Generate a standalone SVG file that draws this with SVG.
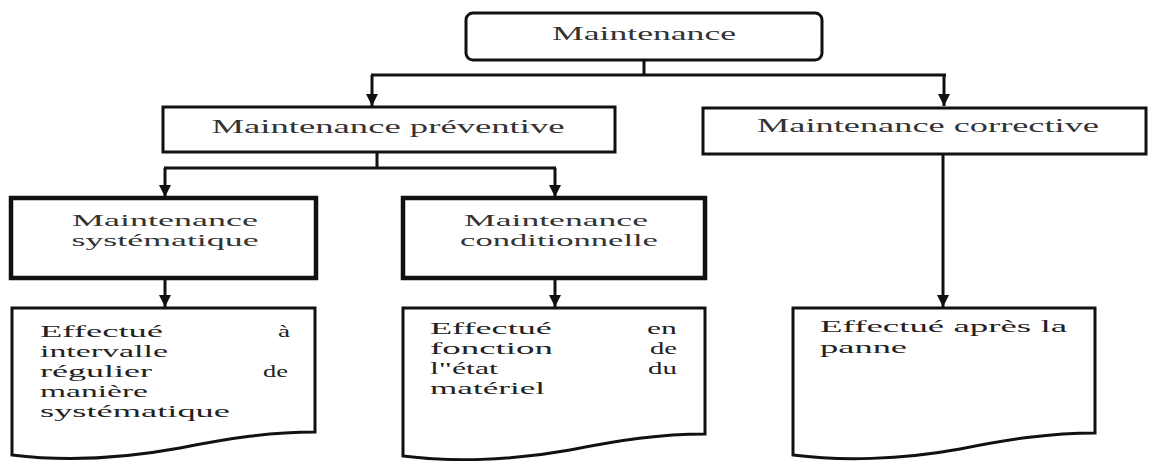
<svg xmlns="http://www.w3.org/2000/svg" width="1149" height="461" viewBox="0 0 1149 461">
<defs>
<marker id="ah" markerUnits="userSpaceOnUse" markerWidth="14" markerHeight="12" refX="12" refY="6" orient="auto">
<path d="M0,0 L12,6 L0,12 Z" fill="#111"/>
</marker>
<style>
.box{fill:#fff;stroke:#111;stroke-width:3}
.thick{stroke-width:4.5}
.lbl{font-family:"Liberation Serif","Times New Roman",serif;font-size:17px;fill:#333;text-anchor:middle}
.big{font-size:18px}
.doc{font-family:"Liberation Serif","Times New Roman",serif;font-size:17px;fill:#222}
.con{fill:none;stroke:#111;stroke-width:3}
</style>
</defs>
<rect width="1149" height="461" fill="#fff"/>
<g id="connectors">
<path class="con" d="M644,60 V75 M371,75 H946"/>
<path class="con" d="M372,75 V106" marker-end="url(#ah)"/>
<path class="con" d="M944,75 V106" marker-end="url(#ah)"/>
<path class="con" d="M377,152 V168 M164,168 H556"/>
<path class="con" d="M165,168 V197" marker-end="url(#ah)"/>
<path class="con" d="M555,168 V197" marker-end="url(#ah)"/>
<path class="con" d="M165,278 V307" marker-end="url(#ah)"/>
<path class="con" d="M555,278 V307" marker-end="url(#ah)"/>
<path class="con" d="M943,155 V307" marker-end="url(#ah)"/>
</g>
<g id="maintenance">
<rect class="box" x="466" y="13" width="356" height="47" rx="7"/>
<text class="lbl big" transform="translate(644,40) scale(1.6,1)" textLength="115" lengthAdjust="spacingAndGlyphs">Maintenance</text>
</g>
<g id="preventive">
<rect class="box" x="163" y="107" width="452" height="45"/>
<text class="lbl big" transform="translate(388,133) scale(1.6,1)" textLength="220.6" lengthAdjust="spacingAndGlyphs">Maintenance préventive</text>
</g>
<g id="corrective">
<rect class="box" x="703" y="108" width="443" height="46"/>
<text class="lbl big" transform="translate(928,132) scale(1.6,1)" textLength="213.7" lengthAdjust="spacingAndGlyphs">Maintenance corrective</text>
</g>
<g id="systematique">
<rect class="box thick" x="11" y="198" width="305" height="80"/>
<text class="lbl" transform="translate(165,226) scale(1.6,1)" textLength="116.2" lengthAdjust="spacingAndGlyphs">Maintenance</text>
<text class="lbl" transform="translate(165,246) scale(1.6,1)" textLength="116.9" lengthAdjust="spacingAndGlyphs">systématique</text>
</g>
<g id="conditionnelle">
<rect class="box thick" x="403" y="198" width="302" height="80"/>
<text class="lbl" transform="translate(556,226) scale(1.6,1)" textLength="115" lengthAdjust="spacingAndGlyphs">Maintenance</text>
<text class="lbl" transform="translate(559,246) scale(1.6,1)" textLength="123.7" lengthAdjust="spacingAndGlyphs">conditionnelle</text>
</g>
<g id="doc-systematique">
<path class="box" d="M12,308 H315 V432 C270,432 230,438 180,448 C120,459 60,461 12,455 Z"/>
<text class="doc" transform="translate(40,337) scale(1.6,1)" textLength="76.9" lengthAdjust="spacingAndGlyphs">Effectué</text>
<text class="doc" transform="translate(278,337) scale(1.6,1)">à</text>
<text class="doc" transform="translate(40,357) scale(1.6,1)" textLength="80" lengthAdjust="spacingAndGlyphs">intervalle</text>
<text class="doc" transform="translate(40,377) scale(1.6,1)" textLength="70" lengthAdjust="spacingAndGlyphs">régulier</text>
<text class="doc" transform="translate(263,377) scale(1.6,1)" textLength="15.6" lengthAdjust="spacingAndGlyphs">de</text>
<text class="doc" transform="translate(40,397) scale(1.6,1)" textLength="67.5" lengthAdjust="spacingAndGlyphs">manière</text>
<text class="doc" transform="translate(40,417) scale(1.6,1)" textLength="118.7" lengthAdjust="spacingAndGlyphs">systématique</text>
</g>
<g id="doc-conditionnelle">
<path class="box" d="M403,308 H705 V434 C660,434 620,440 570,450 C510,461 450,462 403,456 Z"/>
<text class="doc" transform="translate(430,334) scale(1.6,1)" textLength="76.2" lengthAdjust="spacingAndGlyphs">Effectué</text>
<text class="doc" transform="translate(647,334) scale(1.6,1)" textLength="18.7" lengthAdjust="spacingAndGlyphs">en</text>
<text class="doc" transform="translate(430,354) scale(1.6,1)" textLength="76.9" lengthAdjust="spacingAndGlyphs">fonction</text>
<text class="doc" transform="translate(650,354) scale(1.6,1)" textLength="16.9" lengthAdjust="spacingAndGlyphs">de</text>
<text class="doc" transform="translate(430,374) scale(1.6,1)" textLength="42.5" lengthAdjust="spacingAndGlyphs">l"état</text>
<text class="doc" transform="translate(648,374) scale(1.6,1)" textLength="18.1" lengthAdjust="spacingAndGlyphs">du</text>
<text class="doc" transform="translate(430,394) scale(1.6,1)" textLength="71.9" lengthAdjust="spacingAndGlyphs">matériel</text>
</g>
<g id="doc-corrective">
<path class="box" d="M793,308 H1095 V433 C1050,433 1010,439 960,449 C900,460 840,461 793,455 Z"/>
<text class="doc" transform="translate(820,332) scale(1.6,1)" textLength="154.4" lengthAdjust="spacingAndGlyphs">Effectué après la</text>
<text class="doc" transform="translate(820,353) scale(1.6,1)" textLength="54.4" lengthAdjust="spacingAndGlyphs">panne</text>
</g>
</svg>
